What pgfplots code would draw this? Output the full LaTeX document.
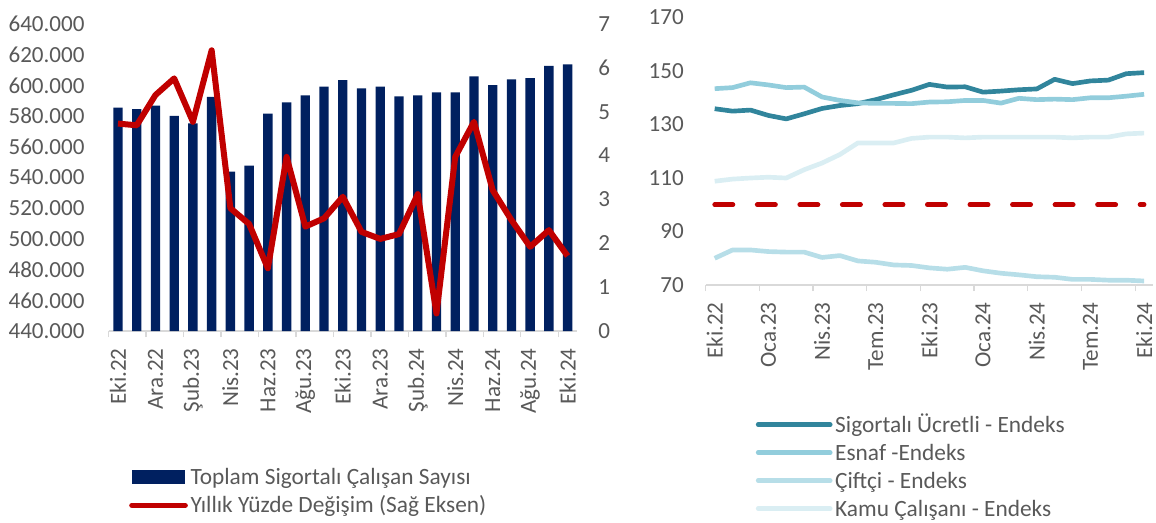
\documentclass[border=0pt]{standalone}
\usepackage{fontspec}
\setmainfont{Carlito}
\usepackage{pgfplots}
\pgfplotsset{compat=1.18}
\definecolor{navy}{HTML}{002060}
\definecolor{dred}{HTML}{C00000}
\definecolor{teal1}{HTML}{31859C}
\definecolor{aqua2}{HTML}{92CDDC}
\definecolor{aqua3}{HTML}{B7DEE8}
\definecolor{aqua4}{HTML}{DAEEF3}
\definecolor{txt}{HTML}{595959}
\definecolor{axl}{HTML}{D9D9D9}
\begin{document}
\begin{tikzpicture}
\useasboundingbox (0,0) rectangle (867pt,391.5pt);
\pgfplotsset{
  common/.style={
    scale only axis,
    anchor=south west,
    xmin=-0.5, xmax=24.5,
    scaled y ticks=false,
    tick label style={font=\fontsize{17.3}{20}\selectfont, text=txt},
    major tick length=0pt,
    minor tick length=4.5pt,
    tick align=outside,
    minor tick style={draw=axl, line width=1pt},
    legend style={draw=none, fill=none, font=\fontsize{17.5}{21}\selectfont, text=txt,
      anchor=north west, row sep=2.5pt, inner sep=0pt,
      cells={anchor=west, inner sep=1.5pt, text height=13pt, text depth=4pt}},
  },
}
% ---------- LEFT: bars ----------
\begin{axis}[common,
  at={(81.45pt,143.25pt)}, width=351.3pt, height=230.25pt,
  ymin=440000, ymax=640000,
  axis x line*=bottom, axis y line*=left,
  x axis line style={draw=axl, line width=1pt, -},
  y axis line style={draw=none},
  ytick={440000,460000,...,640000},
  yticklabels={440.000,460.000,480.000,500.000,520.000,540.000,560.000,580.000,600.000,620.000,640.000},
  yticklabel style={xshift=-14.5pt},
  xtick={0,2,...,24},
  xticklabels={Eki.22,Ara.22,Şub.23,Nis.23,Haz.23,Ağu.23,Eki.23,Ara.23,Şub.24,Nis.24,Haz.24,Ağu.24,Eki.24},
  xticklabel style={rotate=90, anchor=east, xshift=-9.5pt},
  minor xtick={-0.5,1.5,...,22.5},
  legend style={at={(0.0434,-0.4355)}},
  legend image code/.code={\fill[#1,draw=none] (0pt,-5.25pt) rectangle (40pt,5.25pt);},
]
\addplot[ybar, bar width=7pt, fill=navy, draw=none] coordinates {
(0,585500) (1,584600) (2,586800) (3,580100) (4,575300) (5,592600)
(6,543800) (7,547700) (8,581600) (9,589000) (10,593500) (11,599200)
(12,603500) (13,598100) (14,599200) (15,592900) (16,593500) (17,595500)
(18,595500) (19,605900) (20,600100) (21,604000) (22,604800) (23,612800) (24,613700)};
\addlegendentry{Toplam Sigortalı Çalışan Sayısı}
\addlegendimage{legend image code/.code={\draw[dred, line width=4pt, line cap=round] (0pt,0pt) -- (40pt,0pt);}}
\addlegendentry{Yıllık Yüzde Değişim (Sağ Eksen)}
\end{axis}
% ---------- LEFT: line on right axis ----------
\begin{axis}[common,
  at={(81.45pt,143.25pt)}, width=351.3pt, height=230.25pt,
  ymin=0, ymax=7,
  axis x line=none, axis y line*=right,
  y axis line style={draw=none},
  ytick={0,1,...,7},
  yticklabels={0,1,2,3,4,5,6,7},
  yticklabel style={xshift=12.5pt},
]
\addplot[dred, line width=4.5pt, line join=round] coordinates {
(0,4.73) (1,4.69) (2,5.38) (3,5.76) (4,4.77) (5,6.40) (6,2.80) (7,2.44)
(8,1.43) (9,3.97) (10,2.38) (11,2.57) (12,3.06) (13,2.26) (14,2.10) (15,2.21)
(16,3.12) (17,0.40) (18,3.97) (19,4.77) (20,3.21) (21,2.53) (22,1.92) (23,2.30) (24,1.71)};
\end{axis}
% ---------- RIGHT: index lines ----------
\begin{axis}[common,
  at={(529.3pt,177.75pt)}, width=335.5pt, height=200.6pt,
  ymin=70, ymax=170,
  axis x line*=bottom, axis y line*=left,
  x axis line style={draw=axl, line width=1pt, -},
  y axis line style={draw=none},
  ytick={70,90,...,170},
  yticklabels={70,90,110,130,150,170},
  yticklabel style={xshift=-13pt},
  xtick={0,3,...,24},
  xticklabels={Eki.22,Oca.23,Nis.23,Tem.23,Eki.23,Oca.24,Nis.24,Tem.24,Eki.24},
  xticklabel style={rotate=90, anchor=east, xshift=-9.5pt},
  minor xtick={-0.5,2.5,...,23.5},
  legend style={at={(0.1115,-0.475)}},
  legend image code/.code={\draw[#1, line cap=round] (0pt,0pt) -- (54pt,0pt);},
  every axis plot/.append style={line width=3.5pt, line join=round},
]
\addplot[teal1] coordinates {
(0,135.9) (1,135.0) (2,135.4) (3,133.4) (4,132.1) (5,134.0) (6,136.0) (7,137.1)
(8,137.8) (9,139.3) (10,141.1) (11,142.8) (12,145.0) (13,144.0) (14,144.1) (15,142.1)
(16,142.5) (17,143.0) (18,143.3) (19,146.9) (20,145.3) (21,146.3) (22,146.6) (23,149.0) (24,149.4)};
\addlegendentry{Sigortalı Ücretli - Endeks}
\addplot[aqua2] coordinates {
(0,143.4) (1,143.8) (2,145.6) (3,144.8) (4,143.8) (5,144.0) (6,140.3) (7,139.0)
(8,138.1) (9,137.9) (10,137.9) (11,137.8) (12,138.4) (13,138.5) (14,139.0) (15,139.0)
(16,138.0) (17,139.8) (18,139.3) (19,139.5) (20,139.3) (21,140.0) (22,140.0) (23,140.6) (24,141.3)};
\addlegendentry{Esnaf -Endeks}
\addplot[aqua3] coordinates {
(0,80.0) (1,83.1) (2,83.1) (3,82.5) (4,82.3) (5,82.3) (6,80.3) (7,81.0)
(8,79.0) (9,78.5) (10,77.5) (11,77.3) (12,76.4) (13,75.9) (14,76.6) (15,75.3)
(16,74.4) (17,73.8) (18,73.1) (19,72.9) (20,72.1) (21,72.1) (22,71.8) (23,71.8) (24,71.5)};
\addlegendentry{Çiftçi - Endeks}
\addplot[aqua4] coordinates {
(0,108.8) (1,109.6) (2,110.0) (3,110.3) (4,110.0) (5,113.1) (6,115.6) (7,118.8)
(8,123.1) (9,123.1) (10,123.1) (11,124.8) (12,125.3) (13,125.3) (14,125.0) (15,125.3)
(16,125.3) (17,125.3) (18,125.3) (19,125.3) (20,125.0) (21,125.3) (22,125.3) (23,126.5) (24,126.8)};
\addlegendentry{Kamu Çalışanı - Endeks}
\addplot[dred, dash pattern=on 13.7pt off 18.2pt, line cap=round, forget plot] coordinates {
(0,100) (1,100) (2,100) (3,100) (4,100) (5,100) (6,100) (7,100) (8,100) (9,100)
(10,100) (11,100) (12,100) (13,100) (14,100) (15,100) (16,100) (17,100) (18,100)
(19,100) (20,100) (21,100) (22,100) (23,100) (24,100)};
\end{axis}
\end{tikzpicture}
\end{document}
